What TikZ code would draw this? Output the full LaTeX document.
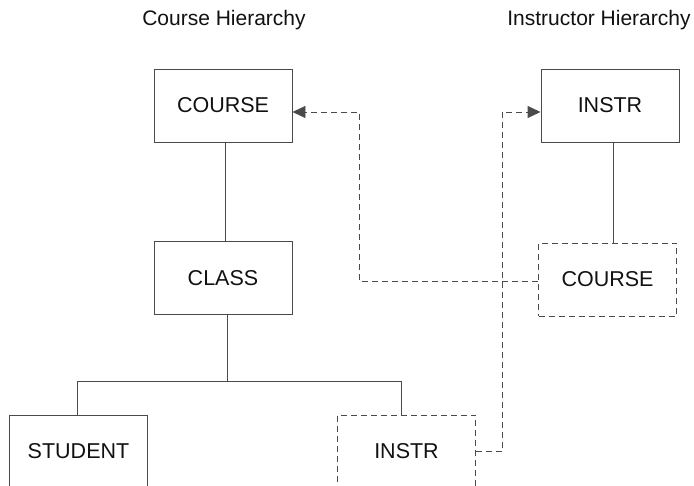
\documentclass[tikz,border=0pt]{standalone}
\usepackage{fontspec}
\setmainfont{Liberation Sans}
\usepackage{tikz}
\usetikzlibrary{calc}
\usetikzlibrary{arrows.meta}
\definecolor{lineColor}{HTML}{4A4A4A}
\definecolor{textColor}{HTML}{111111}
\tikzstyle{segbox}=[rectangle, minimum width=138pt, minimum height=73pt, text centered, draw=lineColor, line width=0.9pt, text=textColor, font=\fontsize{21.5}{25}\selectfont]
\tikzstyle{ptrbox}=[segbox, dash pattern=on 6pt off 4pt]
\tikzstyle{arrow} = [-{Triangle[length=13pt,width=12pt]}]
\tikzset{
	tree/.style={
		draw=lineColor,
		line width=0.9pt
	},
	ptrlink/.style={
		draw=lineColor,
		line width=0.9pt,
		dash pattern=on 6pt off 4pt
	},
	heading/.style={
		text=textColor,
		font=\fontsize{21}{25}\selectfont
	}
}

\begin{document}
\begin{tikzpicture}[x=1pt,y=1pt,node distance=172.5pt]
	\useasboundingbox (0,0) rectangle (694,485);
	\clip (0,0) rectangle (694,485);
	
	\node(CourseTitle)[heading] at (224,465) {Course Hierarchy};
	\node(InstrTitle)[heading] at (599,465) {Instructor Hierarchy};
	
	\node(Course)[segbox] at (223,379.5) {COURSE};
	\node(Class)[segbox, below of=Course]{CLASS};
	\node(Student)[segbox, below of=Class, xshift=-144.5pt, yshift=-1pt]{STUDENT};
	\node(InstrPtr)[ptrbox, below of=Class, xshift=183.5pt, yshift=-1pt]{INSTR};
	
	\node(Instr)[segbox, right of=Course, xshift=214.5pt]{INSTR};
	\node(CoursePtr)[ptrbox, below of=Instr, xshift=-2.5pt, yshift=-1.5pt]{COURSE};
	
	% tree lines
	\coordinate (fork) at ($(Class.south)+(4,-66.5)$);
	\draw [tree] (Course.south -| 225,0) -- (Class.north -| 225,0);
	\draw [tree] (Class.south -| fork) -- (fork);
	\draw [tree] (fork -| 77,0) -- (fork -| 401,0);
	\draw [tree] (fork -| 77,0) -- (Student.north -| 77,0);
	\draw [tree] (fork -| 401,0) -- (InstrPtr.north -| 401,0);
	\draw [tree] (Instr.south -| 613,0) -- (CoursePtr.north -| 613,0);
	
	% logical pointers
	\draw [ptrlink, arrow] (CoursePtr.west |- 0,204) -- (359,204) |- ($(Course.east)+(0,-6.5)$);
	\draw [ptrlink, arrow] (InstrPtr.east) -- (502,33.5) |- ($(Instr.west)+(0,-6.5)$);
\end{tikzpicture}
\end{document}
